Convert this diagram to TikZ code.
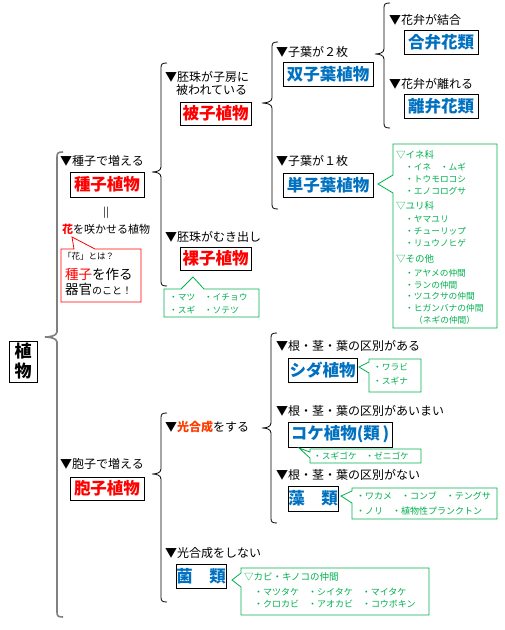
\documentclass[tikz,border=0pt]{standalone}
\usepackage{fontspec}
\setmainfont{Noto Sans CJK JP}
\definecolor{myblue}{HTML}{0070C0}
\definecolor{mygreen}{HTML}{00B050}
\definecolor{myorange}{RGB}{255,60,0}
\definecolor{mygray}{HTML}{808080}
\newcommand\myfs[1]{\fontsize{#1}{#1}\selectfont}
\newcommand\bracepath[6]{%
  \draw[#6] (#1+6,#2) .. controls (#1+1,#2) and (#1,#2+1) .. (#1,#2+5)
    -- (#1,#3-5) .. controls (#1,#3-1) and (#5+4,#3) .. (#5,#3)
    .. controls (#5+4,#3) and (#1,#3+1) .. (#1,#3+5)
    -- (#1,#4-5) .. controls (#1,#4-1) and (#1+1,#4) .. (#1+6,#4);}
\tikzset{
  lbl/.style={anchor=west, inner sep=0pt, font=\myfs{12}},
  bx/.style={draw, line width=0.9pt, inner sep=0pt, fill=white, font=\bfseries\myfs{16.5}},
  redbx/.style={bx, text=red},
  bluebx/.style={bx, text=myblue},
  gt/.style={anchor=west, inner sep=0pt, text=mygreen, font=\myfs{8.7}},
  gh/.style={anchor=west, inner sep=0pt, text=mygreen, font=\myfs{9.5}},
  gcall/.style={draw=mygreen, line width=0.8pt, fill=white},
}
\begin{document}
\begin{tikzpicture}[x=1pt,y=-1pt]
\useasboundingbox[fill=white] (0,0) rectangle (505,630);

% braces
\bracepath{57}{152}{337}{617}{45}{mygray, line width=1.6pt}
\bracepath{161}{63}{172}{286}{152}{black, line width=0.8pt}
\bracepath{272}{42}{103}{209}{262}{black, line width=0.8pt}
\bracepath{384}{3}{54}{128}{375}{black, line width=0.8pt}
\bracepath{271}{333}{428}{523}{262}{black, line width=0.8pt}
\bracepath{161}{413}{474}{602}{152}{black, line width=0.8pt}

% root
\node[draw, line width=1pt, inner sep=0pt, minimum width=28pt, minimum height=41pt,
  align=center, font=\bfseries\fontsize{17}{20}\selectfont] (root) at (23,361.5) {植\\物};

% seed plants
\node[lbl] (t1) at (60,161) {▼種子で増える};
\node[redbx, minimum width=74pt, minimum height=25pt] (seed) at (107,184.5) {種子植物};
\node[inner sep=0pt, font=\myfs{10}] (eq) at (106,213) {|\kern0.5pt|};
\node[lbl, font=\myfs{11}] (hana) at (62,229) {{\bfseries\color{red}花}を咲かせる植物};
\draw[red, line width=0.8pt, fill=white] (61,249) -- (74,249) -- (72,237) -- (95,249)
  -- (141,249) -- (141,302) -- (61,302) -- cycle;
\node[lbl, font=\myfs{8.5}] (c1) at (63,256) {「花」とは？};
\node[lbl, font=\myfs{13.5}] (c2) at (65,274) {{\color{red}種子}を作る};
\node[lbl, font=\myfs{13.5}] (c3) at (65,289) {器官{\myfs{10}のこと！}};

\node[lbl] (t2) at (165,77) {▼胚珠が子房に};
\node[lbl] (t2b) at (176,90) {被われている};
\node[redbx, minimum width=71pt, minimum height=23pt] (hishi) at (215.5,113.5) {被子植物};
\node[lbl] (t3) at (165,237) {▼胚珠がむき出し};
\node[redbx, minimum width=71pt, minimum height=23pt] (rashi) at (215.5,258.5) {裸子植物};
\draw[gcall] (164,289) -- (181,289) -- (193,277) -- (204,289) -- (259,289)
  -- (259,317) -- (164,317) -- cycle;
\node[gt] (r1) at (169,297) {・マツ　・イチョウ};
\node[gt] (r2) at (169,310) {・スギ　・ソテツ};

\node[lbl] (t4) at (276,52) {▼子葉が２枚};
\node[bluebx, minimum width=90pt, minimum height=24pt] (sou) at (328,74) {双子葉植物};
\node[lbl] (t5) at (389,20) {▼花弁が結合};
\node[bluebx, minimum width=74pt, minimum height=24pt] (gou) at (441,42) {合弁花類};
\node[lbl] (t6) at (389,84) {▼花弁が離れる};
\node[bluebx, minimum width=74pt, minimum height=24pt] (ri) at (441,106) {離弁花類};
\node[lbl] (t7) at (276,161) {▼子葉が１枚};
\node[bluebx, minimum width=90pt, minimum height=24pt] (tan) at (328,185) {単子葉植物};

\draw[gcall] (393,144) -- (497,144) -- (497,328) -- (393,328) -- (393,193)
  -- (378,184) -- (393,175) -- cycle;
\node[gh] (m1) at (396,155) {▽イネ科};
\node[gt] (m2) at (405,167) {・イネ　・ムギ};
\node[gt] (m3) at (405,179) {・トウモロコシ};
\node[gt] (m4) at (405,191) {・エノコログサ};
\node[gh] (m5) at (396,206) {▽ユリ科};
\node[gt] (m6) at (405,219) {・ヤマユリ};
\node[gt] (m7) at (405,231) {・チューリップ};
\node[gt] (m8) at (405,243) {・リュウノヒゲ};
\node[gh] (m9) at (396,259) {▽その他};
\node[gt] (m10) at (405,273) {・アヤメの仲間};
\node[gt] (m11) at (405,285) {・ランの仲間};
\node[gt] (m12) at (405,296) {・ツユクサの仲間};
\node[gt] (m13) at (405,308) {・ヒガンバナの仲間};
\node[gt] (m14) at (414,320) {（ネギの仲間）};

% spore plants
\node[lbl] (t8) at (60,464) {▼胞子で増える};
\node[redbx, minimum width=74pt, minimum height=23pt] (hou) at (107,488.5) {胞子植物};
\node[lbl] (t9) at (165,427) {▼{\bfseries\color{myorange}光合成}をする};
\node[lbl] (t10) at (276,346) {▼根・茎・葉の区別がある};
\node[bluebx, minimum width=69pt, minimum height=24pt] (shida) at (322.5,370) {シダ植物};
\draw[gcall] (369,359) -- (421,359) -- (421,392) -- (369,392) -- (369,373)
  -- (359,367) -- (369,362) -- cycle;
\node[gt] (s1) at (373,367) {・ワラビ};
\node[gt] (s2) at (373,381) {・スギナ};

\node[lbl] (t11) at (276,411) {▼根・茎・葉の区別があいまい};
\node[bluebx, minimum width=104pt, minimum height=25pt] (koke) at (340,434.5) {コケ植物(類\,)};
\draw[gcall] (310,449) -- (421,449) -- (421,463) -- (310,463) -- (310,458)
  -- (299,448) -- (310,452) -- cycle;
\node[gt] (k1) at (313,456) {・スギゴケ　・ゼニゴケ};

\node[lbl] (t12) at (276,475) {▼根・茎・葉の区別がない};
\node[bluebx, minimum width=50pt, minimum height=25pt] (sourui) at (313,498.5) {藻\hspace{1em}類};
\draw[gcall] (352,488) -- (497,488) -- (497,519) -- (352,519) -- (352,503)
  -- (341,496) -- (352,491) -- cycle;
\node[gt, font=\myfs{9}] (a1) at (356,496) {・ワカメ　・コンブ　・テングサ};
\node[gt, font=\myfs{9}] (a2) at (356,511) {・ノリ　・植物性プランクトン};

\node[lbl] (t13) at (165,553) {▼光合成をしない};
\node[bluebx, minimum width=50pt, minimum height=24pt] (kin) at (201,576) {菌\hspace{1em}類};
\draw[gcall] (241,568) -- (429,568) -- (429,615) -- (241,615) -- (241,587)
  -- (232,580) -- (241,573) -- cycle;
\node[gh] (f1) at (244,577) {▽カビ・キノコの仲間};
\node[gt, font=\myfs{9}] (f2) at (254,592) {・マツタケ　・シイタケ　・マイタケ};
\node[gt, font=\myfs{9}] (f3) at (254,604) {・クロカビ　・アオカビ　・コウボキン};
\end{tikzpicture}
\end{document}
